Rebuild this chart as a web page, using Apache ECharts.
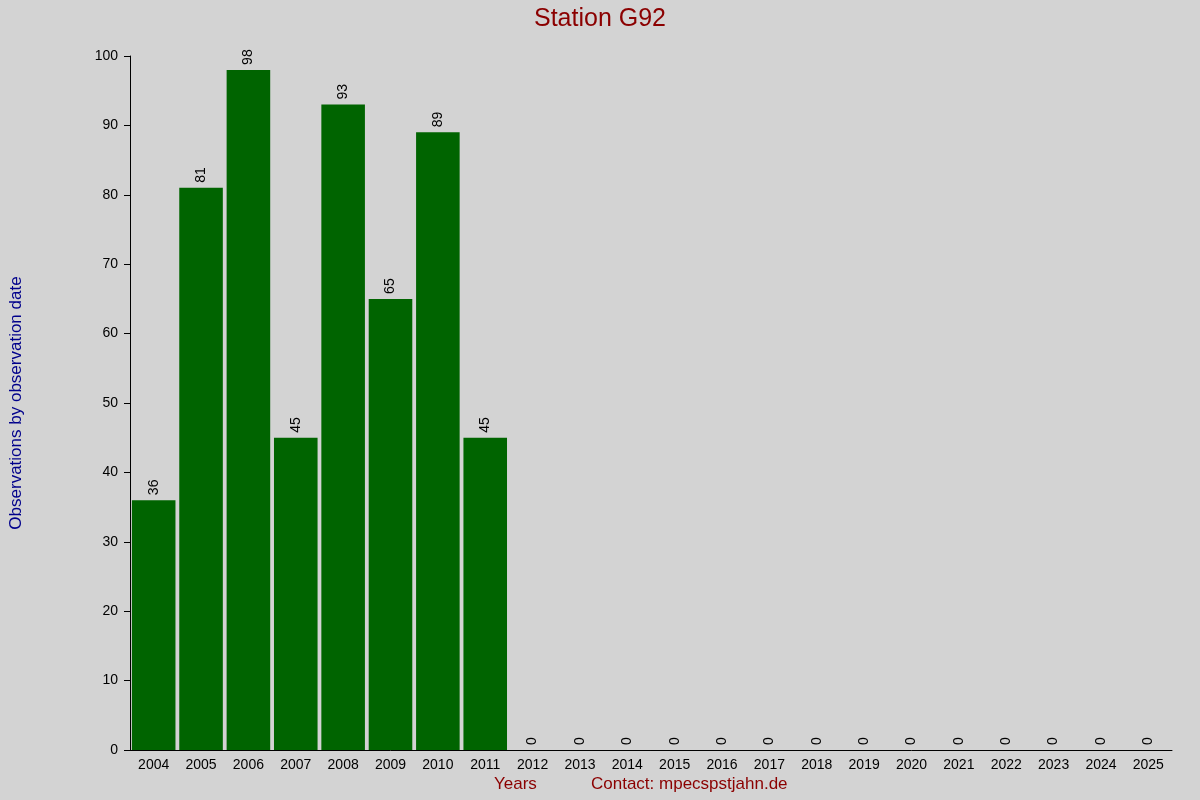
<!DOCTYPE html>
<html><head><meta charset="utf-8">
<script src="https://cdn.jsdelivr.net/npm/echarts@6/dist/echarts.min.js"></script>
<style>html,body{margin:0;padding:0;background:#d3d3d3}#c{width:1200px;height:800px}</style>
</head><body><div id="c"></div>
<script>
const years = ['2004','2005','2006','2007','2008','2009','2010','2011','2012','2013','2014','2015','2016','2017','2018','2019','2020','2021','2022','2023','2024','2025'];
const observations = [36,81,98,45,93,65,89,45,0,0,0,0,0,0,0,0,0,0,0,0,0,0];
const chart = echarts.init(document.getElementById('c'));
const F = 'Liberation Sans, Arial, sans-serif';
chart.setOption({
  backgroundColor:'#d3d3d3',
  animation:false,
  textStyle:{fontFamily:F},
  title:{text:'Station G92',left:'center',top:2,textStyle:{color:'#8b0000',fontSize:25,fontWeight:'normal',fontFamily:F}},
  grid:{left:127,right:28,top:56,bottom:50,containLabel:false},
  xAxis:{type:'category',data:years,
    axisLine:{lineStyle:{color:'#000'}},axisTick:{show:false},
    axisLabel:{color:'#000',fontSize:14,margin:8,interval:0}},
  yAxis:{type:'value',min:0,max:100,interval:10,
    name:'Observations by observation date',nameLocation:'middle',nameGap:105,
    nameTextStyle:{color:'#00008b',fontSize:17},
    axisLine:{show:true,lineStyle:{color:'#000'}},axisTick:{show:true,length:6,lineStyle:{color:'#000'}},
    splitLine:{show:false},axisLabel:{color:'#000',fontSize:14,margin:12}},
  graphic:[
    {type:'text',left:494,top:776,style:{text:'Years',fill:'#8b0000',font:'17px '+F}},
    {type:'text',left:591,top:776,style:{text:'Contact: mpecspstjahn.de',fill:'#8b0000',font:'17px '+F}}
  ],
  series:[{type:'bar',data:observations,barCategoryGap:'8%',
    itemStyle:{color:'#006400'},
    label:{show:true,position:'top',rotate:90,align:'left',verticalAlign:'middle',distance:5,color:'#000',fontSize:14}}]
});
</script></body></html>
